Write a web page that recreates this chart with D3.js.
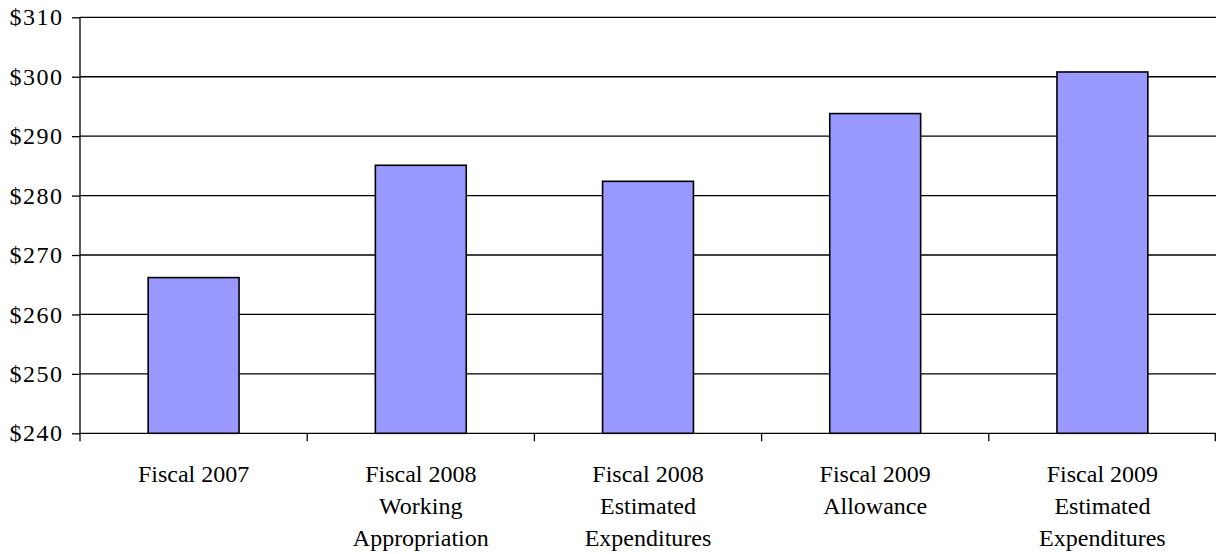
<!DOCTYPE html>
<html>
<head>
<meta charset="utf-8">
<script src="https://cdn.jsdelivr.net/npm/d3@7/dist/d3.min.js"></script>
<style>
  html, body { margin: 0; padding: 0; background: #fff; }
  svg { display: block; }
</style>
</head>
<body>
<svg id="chart" width="1216" height="554" font-family="Liberation Serif"></svg>
<script>
const categories = [
  ["Fiscal 2007"],
  ["Fiscal 2008", "Working", "Appropriation"],
  ["Fiscal 2008", "Estimated", "Expenditures"],
  ["Fiscal 2009", "Allowance"],
  ["Fiscal 2009", "Estimated", "Expenditures"]
];
const values = [266.2, 285.1, 282.4, 293.8, 300.8];
const yTicks = [240, 250, 260, 270, 280, 290, 300, 310];
const yTickLabels = ["$240", "$250", "$260", "$270", "$280", "$290", "$300", "$310"];

(function () {
const FONT = "Liberation Serif";
const svg = d3.select("#chart");
const mLeft = 80, mRight = 1216, mTop = 17.3, mBottom = 433.3;

const keys = categories.map((c, i) => i);
const x = d3.scaleBand().domain(keys).range([mLeft, mRight]).paddingInner(0.6).paddingOuter(0.3);
const xb = d3.scaleBand().domain(keys).range([mLeft, mRight]).padding(0);
const y = d3.scaleLinear().domain([240, 310]).range([mBottom, mTop]);

// gridlines
svg.append("g").selectAll("line").data(yTicks).join("line")
  .attr("x1", mLeft).attr("x2", mRight)
  .attr("y1", d => y(d)).attr("y2", d => y(d))
  .attr("stroke", "#000").attr("stroke-width", 1.3);

// bars
svg.append("g").selectAll("rect").data(values).join("rect")
  .attr("x", (d, i) => x(i))
  .attr("width", x.bandwidth())
  .attr("y", d => y(d))
  .attr("height", d => y(240) - y(d))
  .attr("fill", "#9999FF")
  .attr("stroke", "#000")
  .attr("stroke-width", 1.6);

// y axis
const yAxis = d3.axisLeft(y).tickValues(yTicks)
  .tickFormat((d, i) => yTickLabels[i]).tickSize(8).tickPadding(8.5);
const gy = svg.append("g").attr("transform", `translate(${mLeft},0)`).call(yAxis)
  .attr("font-family", FONT).attr("font-size", 24);
gy.select(".domain").remove();
gy.append("line").attr("x1", 0).attr("x2", 0).attr("y1", mTop).attr("y2", mBottom)
  .attr("stroke", "#000").attr("stroke-width", 1.3);
gy.selectAll(".tick line").attr("stroke", "#000").attr("stroke-width", 1.3);
gy.selectAll(".tick text").attr("font-family", FONT).attr("font-size", 24)
  .attr("letter-spacing", 1.5).attr("fill", "#000");

// x axis: ticks at category boundaries
const boundaries = keys.map(i => xb(i)).concat([mRight]);
svg.append("g").selectAll("line").data(boundaries).join("line")
  .attr("x1", d => Math.min(d, mRight - 0.7)).attr("x2", d => Math.min(d, mRight - 0.7))
  .attr("y1", mBottom).attr("y2", mBottom + 8)
  .attr("stroke", "#000").attr("stroke-width", 1.3);

// x labels
const lbl = svg.append("g").selectAll("text").data(categories).join("text")
  .attr("text-anchor", "middle")
  .attr("font-family", FONT)
  .attr("font-size", 24)
  .attr("fill", "#000")
  .attr("x", (d, i) => xb(i) + xb.bandwidth() / 2)
  .attr("y", 482);
lbl.selectAll("tspan").data(d => d).join("tspan")
  .attr("x", function() { return this.parentNode.getAttribute("x"); })
  .attr("dy", (d, j) => j === 0 ? 0 : 32)
  .text(d => d);
})();
</script>
</body>
</html>
